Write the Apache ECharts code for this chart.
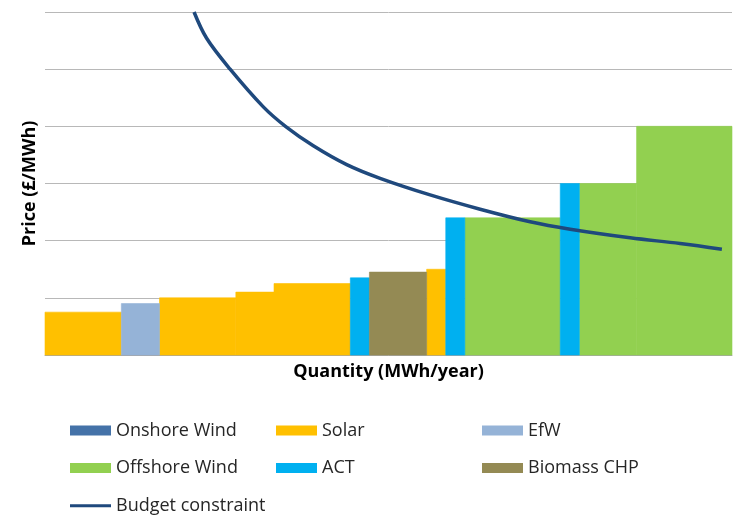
<!DOCTYPE html>
<html>
<head>
<meta charset="utf-8">
<script src="https://cdn.jsdelivr.net/npm/echarts@6/dist/echarts.min.js"></script>
<style>
  html, body { margin: 0; padding: 0; background: #fff; }
  #chart { width: 743px; height: 518px; }
</style>
</head>
<body>
<div id="chart"></div>
<script>
// Technologies and their colours
const technologies = ['Onshore Wind', 'Solar', 'EfW', 'Offshore Wind', 'ACT', 'Biomass CHP'];
const techColors = ['#4472A8', '#FFC000', '#95B3D7', '#92D050', '#00B0F0', '#948A54'];

// Supply curve blocks, in merit order
const blockTech = ['Solar', 'EfW', 'Solar', 'Solar', 'Solar', 'ACT', 'Biomass CHP', 'Solar', 'ACT', 'Offshore Wind', 'ACT', 'Offshore Wind', 'Offshore Wind'];
const blockQuantity = [4, 2, 4, 2, 4, 1, 3, 1, 1, 5, 1, 3, 5];
const blockPrice = [0.75, 0.9, 1.0, 1.1, 1.25, 1.35, 1.45, 1.5, 2.4, 2.4, 3.0, 3.0, 4.0];

// Budget constraint curve (quantity, price)
const budgetQuantity = [7.81, 8.47, 9.7, 11.44, 12.6, 14.06, 15.81, 17.56, 20.18, 22.8, 25.42, 27.52, 30.66, 33.28, 35.47];
const budgetPrice = [6.0, 5.54, 5.0, 4.34, 4.0, 3.66, 3.33, 3.09, 2.8, 2.55, 2.33, 2.2, 2.05, 1.95, 1.85];

// Build [start, end, price] rows per technology
const cumStart = [];
blockQuantity.reduce((acc, q, i) => { cumStart[i] = acc; return acc + q; }, 0);
const totalQuantity = blockQuantity.reduce((a, b) => a + b, 0);

function blocksFor(tech) {
  const rows = [];
  blockTech.forEach((t, i) => {
    if (t === tech) rows.push([cumStart[i], cumStart[i] + blockQuantity[i], blockPrice[i]]);
  });
  return rows;
}

// Variable-width block: spans [start, end] on x, from 0 up to price on y
function renderBlock(params, api) {
  const topLeft = api.coord([api.value(0), api.value(2)]);
  const bottomRight = api.coord([api.value(1), 0]);
  const color = api.visual('color');
  return {
    type: 'rect',
    shape: {
      x: topLeft[0],
      y: topLeft[1],
      width: bottomRight[0] - topLeft[0],
      height: bottomRight[1] - topLeft[1]
    },
    style: { fill: color, stroke: color, lineWidth: 0.6 }
  };
}

const FONT = '"Open Sans"';
const series = technologies.map((tech, i) => ({
  name: tech,
  type: 'custom',
  renderItem: renderBlock,
  itemStyle: { color: techColors[i] },
  encode: { x: [0, 1], y: 2 },
  data: blocksFor(tech),
  z: 2
}));
series.push({
  name: 'Budget constraint',
  type: 'line',
  data: budgetQuantity.map((q, i) => [q, budgetPrice[i]]),
  smooth: 0.35,
  symbol: 'none',
  clip: true,
  lineStyle: { color: '#1F497D', width: 3.5 },
  itemStyle: { color: '#1F497D' },
  z: 5
});

const legendText = { fontFamily: FONT, fontSize: 18, color: '#262626', lineHeight: 20 };
function legendColumn(left, names) {
  return {
    orient: 'vertical',
    left: left,
    top: 420.5,
    padding: 0,
    itemWidth: 41,
    itemHeight: 10,
    itemGap: 17.6,
    icon: 'rect',
    textStyle: legendText,
    selectedMode: false,
    data: names
  };
}

const chart = echarts.init(document.getElementById('chart'), null, { renderer: 'canvas' });
chart.setOption({
  animation: false,
  grid: { left: 45, right: 11, top: 12, bottom: 163 },
  xAxis: {
    type: 'value',
    min: 0,
    max: totalQuantity,
    name: 'Quantity (MWh/year)',
    nameLocation: 'middle',
    nameGap: 8,
    nameTextStyle: { fontFamily: FONT, fontSize: 18, fontWeight: 'bold', color: '#000', verticalAlign: 'top' },
    axisLine: { show: true, lineStyle: { color: '#a6a6a6', width: 1 } },
    axisTick: { show: false },
    axisLabel: { show: false },
    splitLine: { show: false }
  },
  yAxis: {
    type: 'value',
    min: 0,
    max: 6,
    interval: 1,
    name: 'Price (£/MWh)',
    nameLocation: 'middle',
    nameRotate: 90,
    nameGap: 6,
    nameTextStyle: { fontFamily: FONT, fontSize: 18, fontWeight: 'bold', color: '#000' },
    axisLine: { show: false },
    axisTick: { show: false },
    axisLabel: { show: false },
    splitLine: { show: true, lineStyle: { color: '#b8b8b8', width: 1 } }
  },
  legend: [
    legendColumn(70, ['Onshore Wind', 'Offshore Wind', { name: 'Budget constraint', icon: 'path://M0,0H41V3H0Z' }]),
    legendColumn(276, ['Solar', 'ACT']),
    legendColumn(482, ['EfW', 'Biomass CHP'])
  ],
  series: series
});
</script>
</body>
</html>
